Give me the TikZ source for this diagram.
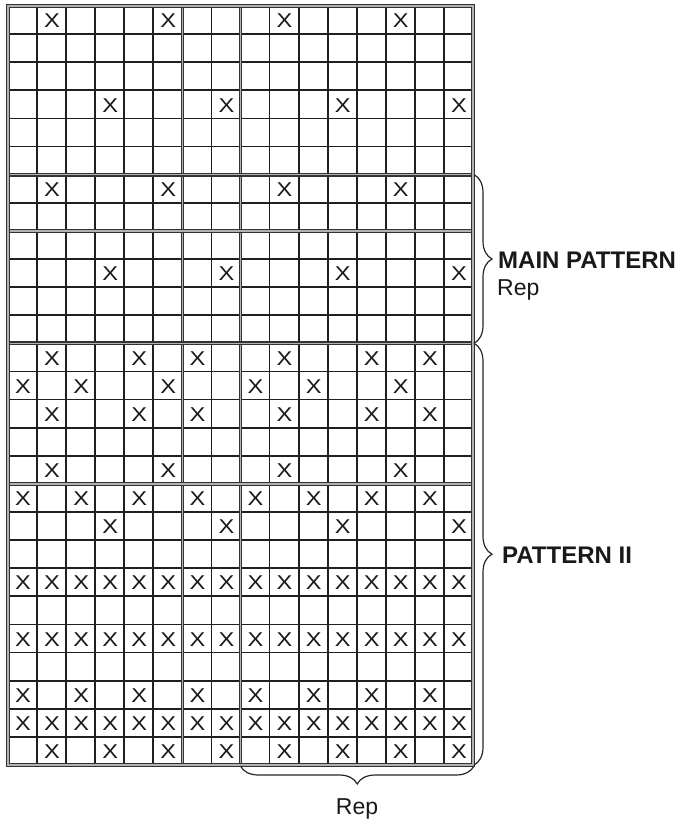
\documentclass[tikz,border=0pt]{standalone}
\usepackage{fontspec}
\setmainfont{Liberation Sans}
\usetikzlibrary{decorations.pathreplacing}
\begin{document}
\begin{tikzpicture}[x=1pt,y=-1pt,
  gridline/.style={draw=black!88, line width=1.8pt},
  heavyline/.style={draw=black!80, line width=1.1pt, double=black!30, double distance=1.5pt},
  xmark/.style={font=\fontsize{20}{20}\selectfont, inner sep=0pt, text=black!90},
  bracefig/.style={draw=black!85, line width=1.2pt, decorate, decoration={brace, amplitude=18pt}},
  boldlabel/.style={font=\bfseries\fontsize{24}{28}\selectfont, anchor=base west, inner sep=0pt, text=black!90},
  plainlabel/.style={font=\fontsize{23}{27}\selectfont, inner sep=0pt, text=black!90}]
\useasboundingbox (0,0) rectangle (691,825);
\fill[white] (0,0) rectangle (691,825);
\pgfmathsetmacro\cw{(473-8)/16}
\pgfmathsetmacro\rh{(765-6)/27}
% thin grid lines
\foreach \i in {1,...,15} \draw[gridline] ({8+\i*\cw},6) -- ({8+\i*\cw},765);
\foreach \j in {1,...,26} \draw[gridline] (8,{6+\j*\rh}) -- (473,{6+\j*\rh});
% heavy lines
\foreach \i in {6,8} \draw[heavyline] ({8+\i*\cw},6) -- ({8+\i*\cw},765);
\foreach \j in {6,8,12,17} \draw[heavyline] (8,{6+\j*\rh}) -- (473,{6+\j*\rh});
\draw[heavyline] (8,6) rectangle (473,765);
% X marks
\foreach \r/\cols in {1/{2,6,10,14},4/{4,8,12,16},7/{2,6,10,14},10/{4,8,12,16},
  13/{2,5,7,10,13,15},14/{1,3,6,9,11,14},15/{2,5,7,10,13,15},17/{2,6,10,14},
  18/{1,3,5,7,9,11,13,15},19/{4,8,12,16},21/{1,...,16},23/{1,...,16},
  25/{1,3,5,7,9,11,13,15},26/{1,...,16},27/{2,4,6,8,10,12,14,16}}
  \foreach \c in \cols
    \node[xmark] (x-\r-\c) at ({8.5+(\c-0.5)*\cw},{6.8+(\r-0.5)*\rh}) {\scalebox{1.18}[1]{X}};
% braces
\coordinate (mainTop) at (474,{6+6*\rh});
\coordinate (mainBot) at (474,{6+12*\rh});
\coordinate (twoTop) at (474,{6+12*\rh});
\coordinate (twoBot) at (474,765);
\coordinate (repR) at (474,766);
\coordinate (repL) at ({8+8*\cw},766);
\draw[bracefig] (mainTop) -- (mainBot);
\draw[bracefig] (twoTop) -- (twoBot);
\draw[bracefig] (repR) -- (repL);
% labels
\node[boldlabel] (mainlabel) at (498,268) {MAIN PATTERN};
\node[plainlabel, anchor=base west] (mainrep) at (497,295) {Rep};
\node[boldlabel] (twolabel) at (502,563) {PATTERN II};
\node[plainlabel, anchor=base] (botrep) at (357,814) {Rep};
\end{tikzpicture}
\end{document}
